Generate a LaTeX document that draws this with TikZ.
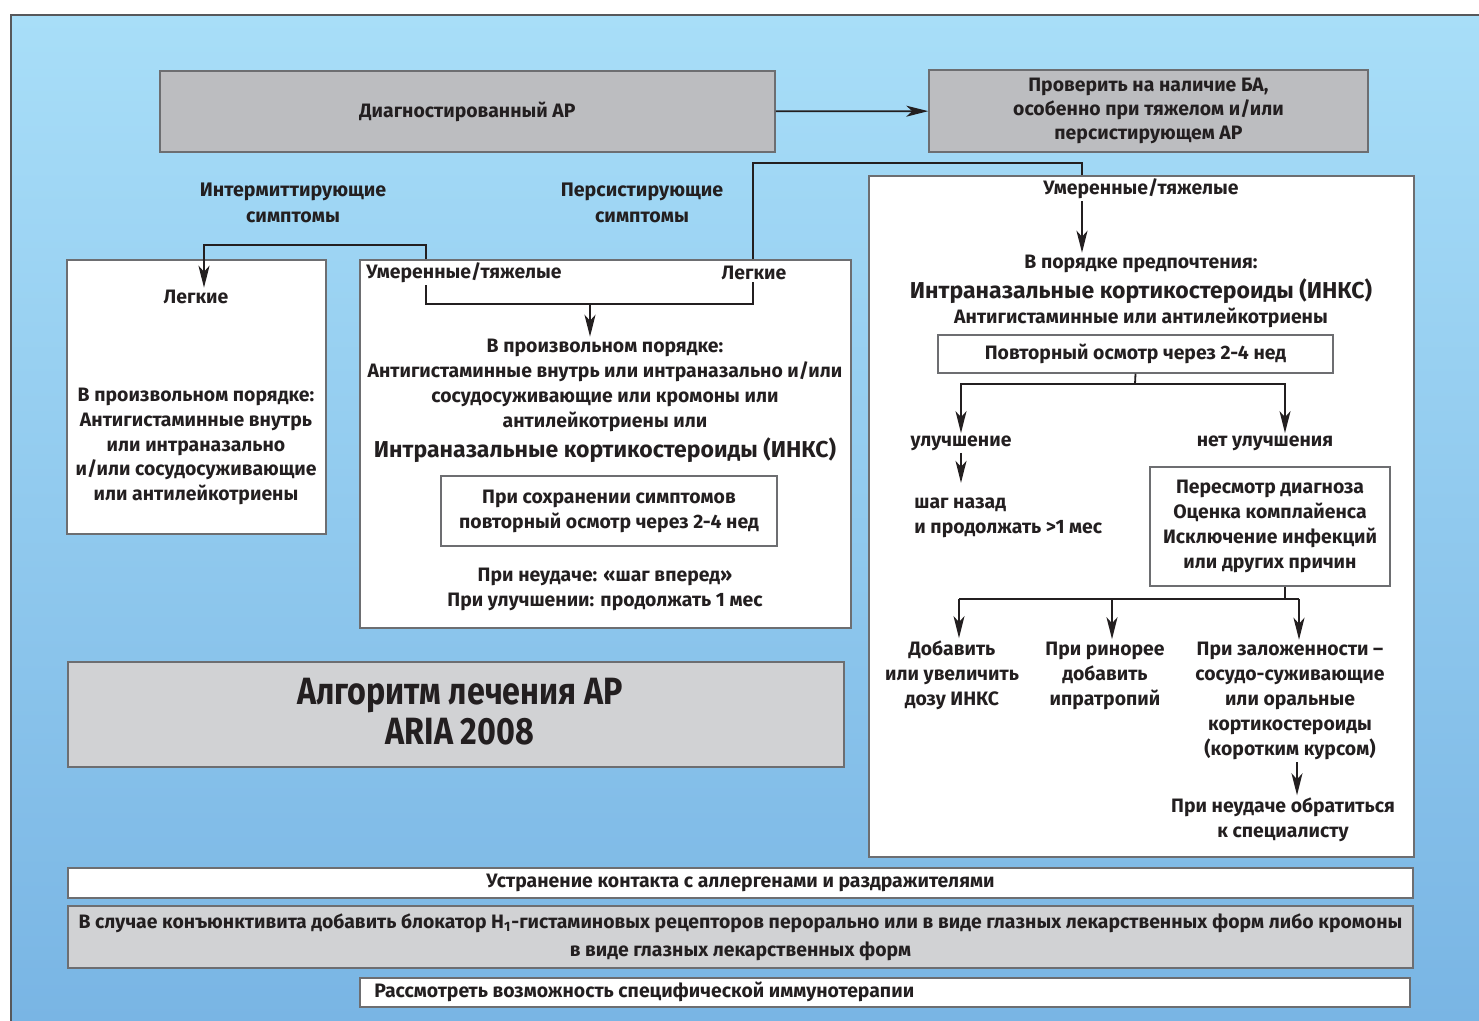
\documentclass[tikz,border=0pt]{standalone}
\usepackage{fontspec}
\setmainfont{Fira Sans}
\newfontfamily\titlefont[FakeStretch=0.85]{Fira Sans}
\usetikzlibrary{arrows.meta, positioning, fit}
\definecolor{bgtop}{HTML}{A8DEF8}
\definecolor{bgbot}{HTML}{79B5E4}
\definecolor{boxgray}{HTML}{BCBDC0}
\definecolor{boxlight}{HTML}{D1D2D4}
\definecolor{edge}{HTML}{6D6E71}
\definecolor{ink}{HTML}{231F20}

\begin{document}
\begin{tikzpicture}[x=0.5pt, y=-0.5pt,
        every node/.style={text=ink},
        txt/.style={font=\bfseries\fontsize{9.7}{12.5}\selectfont, align=center, inner sep=1pt},
        bigtxt/.style={font=\bfseries\fontsize{11.5}{14}\selectfont, inner sep=1pt},
        titletxt/.style={font=\titlefont\bfseries\fontsize{19}{20}\selectfont, align=center, inner sep=1pt},
        wbox/.style={draw=edge, fill=white, line width=0.75pt, inner sep=0pt},
        gbox/.style={wbox, fill=boxgray},
        lbox/.style={wbox, fill=boxlight},
        line/.style={draw=ink, line width=0.9pt},
        arr/.style={line, -{Stealth[length=11pt, width=5.5pt, inset=3pt]}}]

    % page and blue panel
    \useasboundingbox (0,0) rectangle (1479,1021);
    \fill[white] (0,0) rectangle (1479,1021);
    \shade[top color=bgtop, bottom color=bgbot] (11,15) rectangle (1479,1021);
    \draw[edge!80!black, line width=1pt] (11,1021) -- (11,15) -- (1479,15);

    % top row
    \node[gbox, fit={(160,71) (775,152)}] (diag) {};
    \node[txt] (diagtx) at (diag.center) {Диагностированный АР};
    \node[gbox, fit={(929,70) (1368,152)}] (check) {};
    \node[txt, font=\bfseries\fontsize{9.7}{12}\selectfont] (checktx) at (check.center) {Проверить на наличие БА,\\особенно при тяжелом и/или\\персистирующем АР};
    \draw[arr] (diag) -- (check);

    \node[txt, font=\bfseries\fontsize{9.8}{13}\selectfont] (inter) at (293,203) {Интермиттирующие\\симптомы};
    \node[txt, font=\bfseries\fontsize{9.8}{13}\selectfont] (pers) at (642,203) {Персистирующие\\симптомы};

    % intermittent, mild
    \node[wbox, fit={(67,260) (326,534)}] (mildbox) {};
    \node[txt] (lmild) at (196,297) {Легкие};
    \node[txt, font=\bfseries\fontsize{9.7}{12.4}\selectfont] (lmildtx) at (196,446.5) {В произвольном порядке:\\Антигистаминные внутрь\\или интраназально\\и/или сосудосуживающие\\или антилейкотриены};

    % persistent, mild / intermittent, moderate
    \node[wbox, fit={(360,260) (851,628)}] (persbox) {};
    \node[txt, anchor=west] (pmod) at (364,273) {Умеренные/тяжелые};
    \node[txt] (pmild) at (754,273) {Легкие};
    \coordinate (pbl) at (426,304);
    \coordinate (pbr) at (753,304);
    \coordinate (pdrop) at (590,304);
    \node[txt] (pany) at (605,385.5) {В произвольном порядке:\\Антигистаминные внутрь или интраназально и/или\\сосудосуживающие или кромоны или\\антилейкотриены или};
    \node[bigtxt] (pincs) at (605,450) {Интраназальные кортикостероиды (ИНКС)};
    \node[wbox, fit={(441,476) (777,546)}] (precheck) {};
    \node[txt] (prechecktx) at (precheck.center) {При сохранении симптомов\\повторный осмотр через 2-4 нед};
    \node[txt] (pfail) at (605,589.5) {При неудаче: «шаг вперед»\\При улучшении: продолжать 1 мес};

    \draw[line] (pmod.south -| pbl) -- (pbl) -- (pbr) -- (pmild.south -| pbr);
    \draw[arr] (pdrop) -- (pdrop |- pany.north);

    \coordinate (ljoin) at (204,245);
    \draw[arr] (persbox.north -| pbl) |- (ljoin) -- (ljoin |- lmild.north);

    % persistent, moderate-severe
    \node[wbox, fit={(869,176) (1414,857)}] (sevbox) {};
    \coordinate (rjoin) at (1082,163);
    \draw[line] (persbox.north -| pbr) |- (rjoin) -- (rjoin |- sevbox.north);

    \node[txt] (rmod) at (1141,189) {Умеренные/тяжелые};
    \node[txt] (rpref) at (1141,264) {В порядке предпочтения:};
    \node[bigtxt] (rincs) at (1141,291) {Интраназальные кортикостероиды (ИНКС)};
    \node[txt] (ralt) at (1141,318) {Антигистаминные или антилейкотриены};
    \node[wbox, fit={(938,335) (1333,373)}] (rrecheck) {};
    \node[txt] (rrechecktx) at (rrecheck.center) {Повторный осмотр через 2-4 нед};
    \draw[arr] (rjoin |- rmod.south) -- (rjoin |- rpref.north);

    \coordinate (rsplit) at (1135,384);
    \node[txt] (rbetter) at (961,443) {улучшение};
    \node[txt] (rworse) at (1265,443) {нет улучшения};
    \draw[line] (rrecheck.south) -- (rsplit);
    \draw[arr] (rsplit) -| (rbetter.north);
    \draw[arr] (rsplit) -| ([xshift=10pt]rworse.north);
    \draw[arr] (rbetter.south) -- ++(0,30);
    \node[txt, align=left, anchor=west] (rback) at (912,517.5) {шаг назад\\и продолжать >1 мес};

    \node[wbox, fit={(1150,467) (1390,586)}] (rreview) {};
    \node[txt] (rreviewtx) at (rreview.center) {Пересмотр диагноза\\Оценка комплайенса\\Исключение инфекций\\или других причин};
    \coordinate (rfork) at (1285,599);
    \coordinate (dA) at (959,599);
    \coordinate (dB) at (1112,599);
    \coordinate (dC) at (1299,599);
    \draw[line] (rreview.south -| rfork) -- (rfork);
    \draw[line] (dA) -- (dC);

    \node[txt] (radd) at (952,675) {Добавить\\или увеличить\\дозу ИНКС};
    \node[txt] (rrhin) at (1105,675.5) {При ринорее\\добавить\\ипратропий};
    \node[txt] (rcong) at (1290,701) {При заложенности –\\сосудо-суживающие\\или оральные\\кортикостероиды\\(коротким курсом)};
    \foreach \d/\t in {dA/radd, dB/rrhin, dC/rcong}
        \draw[arr] (\d) -- (\d |- \t.north);
    \draw[arr] ([xshift=3.5pt]rcong.south) -- ++(0,33);
    \node[txt] (rspec) at (1283,820) {При неудаче обратиться\\к специалисту};

    % title
    \node[lbox, fit={(68,662) (844,767)}] (algbox) {};
    \node[titletxt] (algtitle) at (460,712) {Алгоритм лечения АР\\ARIA 2008};

    % bottom strips
    \node[wbox, fit={(68,868) (1413,898)}] (avoid) {};
    \node[txt] (avoidtx) at (avoid.center) {Устранение контакта с аллергенами и раздражителями};
    \node[lbox, fit={(68,906) (1413,968)}] (conj) {};
    \node[txt, font=\bfseries\fontsize{9.7}{14}\selectfont] (conjtx) at (conj.center) {В случае конъюнктивита добавить блокатор H\textsubscript{1}-гистаминовых рецепторов перорально или в виде глазных лекарственных форм либо кромоны\\в виде глазных лекарственных форм};
    \node[wbox, fit={(360,978) (1410,1007)}] (ait) {};
    \node[txt, anchor=west] (aittx) at (372,992) {Рассмотреть возможность специфической иммунотерапии};
\end{tikzpicture}
\end{document}
